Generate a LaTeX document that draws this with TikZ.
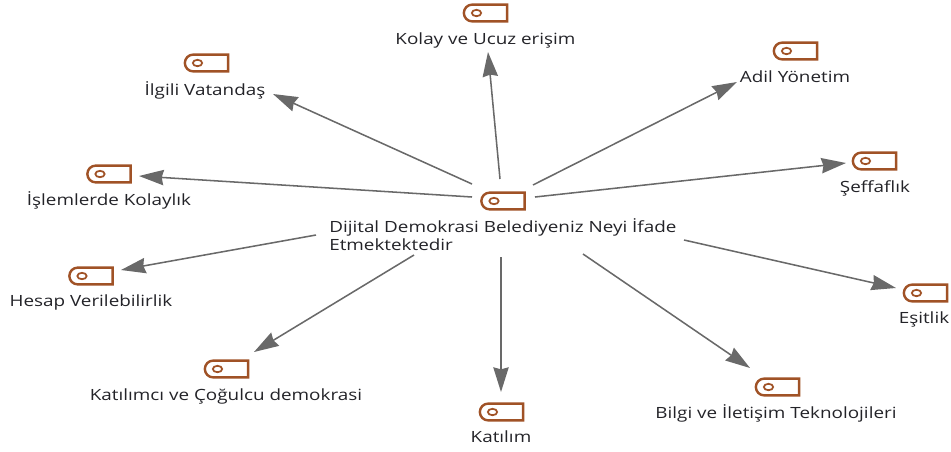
\documentclass[tikz,border=0pt]{standalone}
\usepackage{fontspec}
\setmainfont[FakeStretch=1.22]{Open Sans}
\usetikzlibrary{arrows.meta,shapes.misc}
\definecolor{iconc}{RGB}{160,82,38}
\definecolor{linec}{RGB}{105,105,105}
\definecolor{textc}{RGB}{35,35,40}
\tikzset{
  x=0.75pt,y=-0.75pt,
  tagicon/.style={draw=iconc,line width=1.8pt,rounded rectangle,rounded rectangle right arc=none,
    minimum width=32.5pt,minimum height=12.6pt,inner sep=0pt,outer sep=0pt,
    path picture={\draw[iconc,line width=1.3pt] ([xshift=-0.75pt*9]path picture bounding box.center) ellipse (3.5pt and 2.4pt);}},
  lab/.style={font=\fontsize{11.6pt}{13.5pt}\selectfont,text=textc,inner sep=0pt,anchor=base},
  conn/.style={draw=linec,line width=1.15pt,-{Stealth[length=18.5pt,width=11.5pt,inset=1.5pt]}}
}
\begin{document}
\begin{tikzpicture}
\useasboundingbox (0,0) rectangle (951,451);
% icons
\node[tagicon] (ic0) at (503,201) {};
\node[tagicon] (ic1) at (485.5,13) {};
\node[tagicon] (ic2) at (795.5,51) {};
\node[tagicon] (ic3) at (874.5,161) {};
\node[tagicon] (ic4) at (925.5,293) {};
\node[tagicon] (ic5) at (777.5,387) {};
\node[tagicon] (ic6) at (501.5,412) {};
\node[tagicon] (ic7) at (226.5,369) {};
\node[tagicon] (ic8) at (91,276) {};
\node[tagicon] (ic9) at (109,174) {};
\node[tagicon] (ic10) at (206.5,63) {};
% labels
\node[lab,anchor=north west,align=left] (l0) at (329,218.5) {Dijital Demokrasi Belediyeniz Neyi İfade\\[0pt]Etmektektedir};
\node[lab] (l1) at (485.5,44) {Kolay ve Ucuz erişim};
\node[lab] (l2) at (795,82) {Adil Yönetim};
\node[lab] (l3) at (875,192) {Şeffaflık};
\node[lab] (l4) at (924,323) {Eşitlik};
\node[lab] (l5) at (776,418) {Bilgi ve İletişim Teknolojileri};
\node[lab] (l6) at (501,442) {Katılım};
\node[lab] (l7) at (226,400) {Katılımcı ve Çoğulcu demokrasi};
\node[lab] (l8) at (91,306.5) {Hesap Verilebilirlik};
\node[lab] (l9) at (109,205) {İşlemlerde Kolaylık};
\node[lab] (l10) at (205,95) {İlgili Vatandaş};
% connector ends
\coordinate (s1) at (500,179); \coordinate (e1) at (488,52);
\coordinate (s2) at (533,185); \coordinate (e2) at (737,82);
\coordinate (s3) at (535,197); \coordinate (e3) at (846,163);
\coordinate (s4) at (684,240); \coordinate (e4) at (896,288);
\coordinate (s5) at (583,254); \coordinate (e5) at (750,368);
\coordinate (s6) at (501,257); \coordinate (e6) at (501,392);
\coordinate (s7) at (414,255); \coordinate (e7) at (254,352);
\coordinate (s8) at (316,235); \coordinate (e8) at (121,270);
\coordinate (s9) at (472,197); \coordinate (e9) at (139,176);
\coordinate (s10) at (472,184); \coordinate (e10) at (273,94);
\foreach \i in {1,...,10} {\draw[conn] (s\i) -- (e\i);}
\end{tikzpicture}
\end{document}
